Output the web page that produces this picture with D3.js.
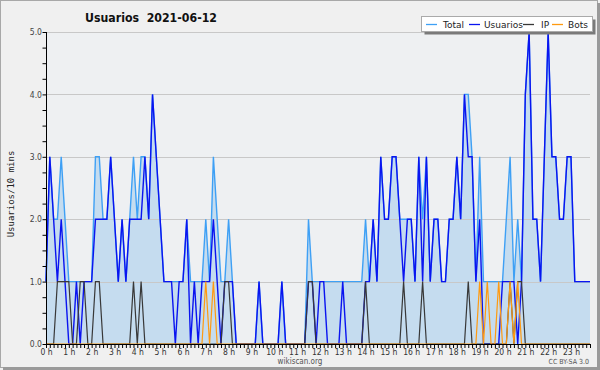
<!DOCTYPE html>
<html><head><meta charset="utf-8">
<script src="https://cdn.jsdelivr.net/npm/d3@7/dist/d3.min.js"></script>
<style>
html,body{margin:0;padding:0;background:#f0f0f0;}
svg{display:block;}
</style></head>
<body>
<svg id="c" width="600" height="370"></svg>
<script>
// ---- data: 144 ten-minute slots (index 0 = 00:00) ----
const hourLabels = ["0 h","1 h","2 h","3 h","4 h","5 h","6 h","7 h","8 h","9 h","10 h","11 h","12 h","13 h","14 h","15 h","16 h","17 h","18 h","19 h","20 h","21 h","22 h","23 h"];
const yTickValues = [0,1,2,3,4,5];
const seriesNames = ["Total","Usuarios","IP","Bots"];
const total = [
 1,3,2,2,3,2,  1,1,1,1,1,1,  1,3,3,2,2,3,  2,1,2,1,2,3,  2,3,3,2,4,3,  2,1,1,1,1,1,
 1,2,1,1,1,1,  2,1,3,2,1,1,  2,1,0,0,0,0,  0,0,1,0,0,0,  0,0,1,0,0,0,  0,0,0,2,1,1,
 1,1,1,1,1,1,  1,1,1,1,1,1,  2,1,2,1,3,2,  2,3,3,2,2,2,  2,1,3,2,3,1,  2,2,1,1,2,2,
 3,2,4,4,3,1,  3,1,1,1,1,1,  1,2,3,1,2,1,  4,5,2,2,1,3,  5,3,3,2,2,3,  3,1,1,1,1,1];
const usuarios = [
 1,3,2,1,2,1,  0,0,1,0,1,1,  1,2,2,2,2,3,  2,1,2,1,2,2,  2,2,3,2,4,3,  2,1,1,1,0,1,
 1,2,0,1,0,1,  1,1,2,1,0,1,  1,1,0,0,0,0,  0,0,1,0,0,0,  0,0,1,0,0,0,  0,0,0,1,1,0,
 1,1,0,0,0,0,  1,0,0,0,0,0,  1,1,2,1,3,2,  2,3,3,2,1,2,  2,1,3,1,3,1,  2,2,1,1,2,2,
 3,2,4,3,3,1,  2,0,0,0,0,0,  1,1,1,1,0,1,  4,5,2,2,1,3,  5,3,3,2,2,3,  3,1,1,1,1,1];
const ip = [
 0,0,0,1,1,1,  1,0,0,1,1,0,  0,1,1,0,0,0,  0,0,0,0,0,1,  0,1,0,0,0,0,  0,0,0,0,0,0,
 0,0,0,0,0,0,  0,0,0,0,0,1,  1,0,0,0,0,0,  0,0,0,0,0,0,  0,0,0,0,0,0,  0,0,0,1,1,0,
 0,0,0,0,0,0,  0,0,0,0,0,0,  1,0,0,0,0,0,  0,0,0,0,1,0,  0,0,0,1,0,0,  0,0,0,0,0,0,
 0,0,0,1,0,0,  0,0,0,0,0,0,  0,0,1,0,1,1,  0,0,0,0,0,0,  0,0,0,0,0,0,  0,0,0,0,0,0];
const bots = [
 0,0,0,0,0,0,  0,0,0,0,0,0,  0,0,0,0,0,0,  0,0,0,0,0,0,  0,0,0,0,0,0,  0,0,0,0,0,0,
 0,0,0,0,0,0,  1,0,1,0,0,0,  0,0,0,0,0,0,  0,0,0,0,0,0,  0,0,0,0,0,0,  0,0,0,0,0,0,
 0,0,0,0,0,0,  0,0,0,0,0,0,  0,0,0,0,0,0,  0,0,0,0,0,0,  0,0,0,0,0,0,  0,0,0,0,0,0,
 0,0,0,0,0,0,  1,0,1,0,0,1,  0,0,1,0,1,0,  0,0,0,0,0,0,  0,0,0,0,0,0,  0,0,0,0,0,0];

const colors = {Total:"#3ea0f5", Usuarios:"#0a14f0", IP:"#383838", Bots:"#ff9a10"};

const svg = d3.select("#c");
const W = 600, H = 370;
const x = d3.scaleLinear().domain([0,143]).range([46,590]);
const y = d3.scaleLinear().domain([0,5]).range([344,32]);

// frame
svg.append("rect").attr("x",0.5).attr("y",0.5).attr("width",W-3).attr("height",H-3)
  .attr("fill","#f0f0f0").attr("stroke","#a8a8a8");
svg.append("line").attr("x1",W-1.5).attr("x2",W-1.5).attr("y1",3).attr("y2",H).attr("stroke","#9a9a9a").attr("stroke-width",3);
svg.append("line").attr("x1",3).attr("x2",W).attr("y1",H-1.5).attr("y2",H-1.5).attr("stroke","#9a9a9a").attr("stroke-width",3);

// plot background
svg.append("rect").attr("x",x(0)).attr("y",y(5)).attr("width",x(143)-x(0)).attr("height",y(0)-y(5)).attr("fill","#eef0f2");

const idx = d3.range(144);
// area under Total
svg.append("path").datum(idx)
  .attr("d", d3.area().x(i=>x(i)).y0(y(0)).y1(i=>y(total[i])))
  .attr("fill","#c5dcef");

// gridlines
svg.append("g").selectAll("line").data(yTickValues.filter(v=>v>0)).join("line")
  .attr("x1",x(0)).attr("x2",x(143)).attr("y1",d=>Math.round(y(d))+0.5).attr("y2",d=>Math.round(y(d))+0.5)
  .attr("stroke","#c8c8c8").attr("stroke-width",1);

const line = arr => d3.line().x(i=>x(i)).y(i=>y(arr[i]));
function drawSeries(arr, col, w){
  svg.append("path").datum(idx).attr("d", line(arr)).attr("fill","none")
    .attr("stroke",col).attr("stroke-width",w).attr("stroke-linejoin","miter");
}
drawSeries(total, colors.Total, 1.4);
drawSeries(usuarios, colors.Usuarios, 1.4);
drawSeries(ip, colors.IP, 1.2);
drawSeries(bots, colors.Bots, 1.2);

// y axis
const yAxis = d3.axisLeft(y).tickValues(d3.range(0,5.001,0.25)).tickSize(4)
  .tickFormat(d => Number.isInteger(d) ? d.toFixed(1) : "");
const gy = svg.append("g").attr("transform",`translate(${x(0)},0)`).call(yAxis);
gy.select(".domain").attr("stroke","#000").attr("d",`M0.5,${y(5)}V${y(0)}`);
gy.selectAll(".tick line").attr("stroke","#000").attr("x1",0.5).attr("x2",-3.5);
gy.selectAll(".tick text").attr("x",-4).attr("font-family","'DejaVu Sans Condensed','DejaVu Sans',sans-serif")
  .attr("font-size","8.5px").attr("fill","#444");

// x axis
const xAxis = d3.axisBottom(x).tickValues(idx).tickSize(4)
  .tickFormat(i => i % 6 === 0 ? hourLabels[i/6] : "");
const gx = svg.append("g").attr("transform",`translate(0,${y(0)})`).call(xAxis);
gx.select(".domain").attr("stroke","#000").attr("d",`M${x(0)},0.5H${x(143)}`);
gx.selectAll(".tick line").attr("stroke","#000");
gx.selectAll(".tick text").attr("y",5).attr("font-family","'DejaVu Sans Condensed','DejaVu Sans',sans-serif")
  .attr("font-size","8.5px").attr("fill","#333");

// title
svg.append("text").attr("x",151).attr("y",22).attr("text-anchor","middle")
  .attr("font-family","'DejaVu Sans Condensed','DejaVu Sans',sans-serif").attr("font-weight","bold")
  .attr("font-size","13px").attr("fill","#111")
  .attr("textLength",132).attr("lengthAdjust","spacingAndGlyphs")
  .text("Usuarios\u00a0\u00a02021-06-12");

// y label
svg.append("text").attr("transform","translate(14,194) rotate(-90)").attr("text-anchor","middle")
  .attr("font-family","'DejaVu Sans Mono',monospace").attr("font-size","9px").attr("fill","#222")
  .text("Usuarios/10 mins");

// footer
svg.append("text").attr("x",300).attr("y",364).attr("text-anchor","middle")
  .attr("font-family","'DejaVu Sans Condensed','DejaVu Sans',sans-serif").attr("font-size","8px").attr("fill","#555")
  .text("wikiscan.org");
svg.append("text").attr("x",589).attr("y",364).attr("text-anchor","end")
  .attr("font-family","'DejaVu Sans Condensed','DejaVu Sans',sans-serif").attr("font-size","7px").attr("fill","#555")
  .text("CC BY-SA 3.0");

// legend
const lg = svg.append("g");
lg.append("rect").attr("x",424.5).attr("y",19.5).attr("width",171).attr("height",15).attr("fill","#7a7a7a");
lg.append("rect").attr("x",421.5).attr("y",16.5).attr("width",171).attr("height",15).attr("fill","#fff").attr("stroke","#aaa");
const legendItems = [
  {name:"Total", lx:426, tx:443},
  {name:"Usuarios", lx:469, tx:484},
  {name:"IP", lx:523, tx:541},
  {name:"Bots", lx:552, tx:568}
];
legendItems.forEach(it=>{
  lg.append("line").attr("x1",it.lx).attr("x2",it.lx+11).attr("y1",24.5).attr("y2",24.5)
    .attr("stroke",colors[it.name]).attr("stroke-width",1.3);
  lg.append("text").attr("x",it.tx).attr("y",28).attr("font-family","'DejaVu Sans',sans-serif")
    .attr("font-size","9px").attr("fill","#222").text(it.name);
});
</script>
</body></html>
